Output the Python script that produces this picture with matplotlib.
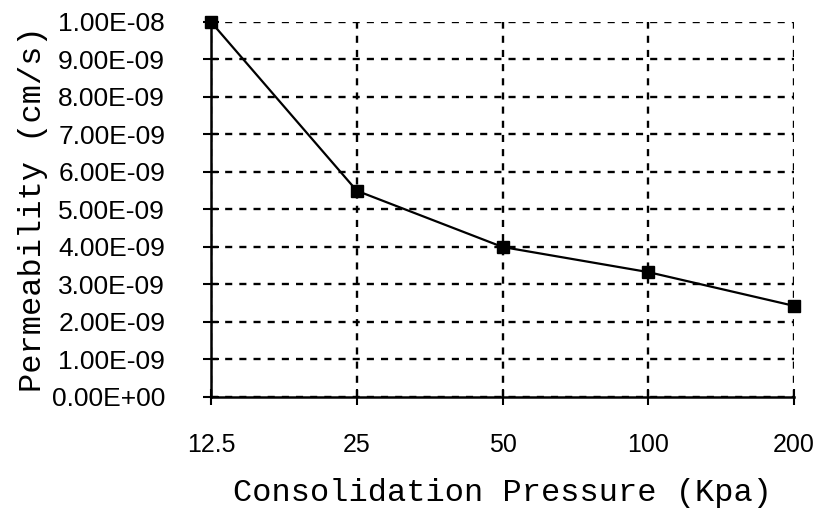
import matplotlib
matplotlib.use("Agg")
import matplotlib.pyplot as plt
import numpy as np

pressures = ["12.5", "25", "50", "100", "200"]
permeability = [1.0e-8, 5.5e-9, 4.0e-9, 3.33e-9, 2.43e-9]
y_ticks = [i * 1e-9 for i in range(11)]
y_tick_labels = ["0.00E+00", "1.00E-09", "2.00E-09", "3.00E-09", "4.00E-09", "5.00E-09",
                 "6.00E-09", "7.00E-09", "8.00E-09", "9.00E-09", "1.00E-08"]

fig = plt.figure(figsize=(8.16, 5.11), dpi=100)
ax = fig.add_axes([0.2586, 0.2231, 0.7145, 0.7339])

x = np.arange(len(pressures))
ax.plot(x, permeability, color="black", linewidth=1.6, marker="s", markersize=8,
        markerfacecolor="black", markeredgecolor="black", clip_on=False, zorder=5)

ax.set_xlim(0, len(pressures) - 1)
ax.set_ylim(0, 1e-8)
ax.set_xticks(x)
ax.set_xticklabels(pressures, fontfamily="Liberation Sans", fontsize=18)
ax.set_yticks(y_ticks)
ax.set_yticklabels(y_tick_labels, fontfamily="Liberation Sans", fontsize=19)

for s in ["top", "right"]:
    ax.spines[s].set_visible(False)
for s in ["left", "bottom"]:
    ax.spines[s].set_linewidth(1.8)

ax.tick_params(axis="y", direction="inout", length=12, width=1.5, pad=27)
ax.tick_params(axis="x", direction="inout", length=12, width=1.5, pad=20)

ax.grid(True, color="black", linestyle=(0, (3, 3)), linewidth=1.7)
ax.set_axisbelow(True)

ax.set_xlabel("Consolidation Pressure (Kpa)", fontfamily="Liberation Mono", fontsize=23)
ax.set_ylabel("Permeability (cm/s)", fontfamily="Liberation Mono", fontsize=23)
ax.xaxis.set_label_coords(0.5, -0.215)
ax.yaxis.set_label_coords(-0.28, 0.5)

fig.savefig("out.png", dpi=100, facecolor="white")
